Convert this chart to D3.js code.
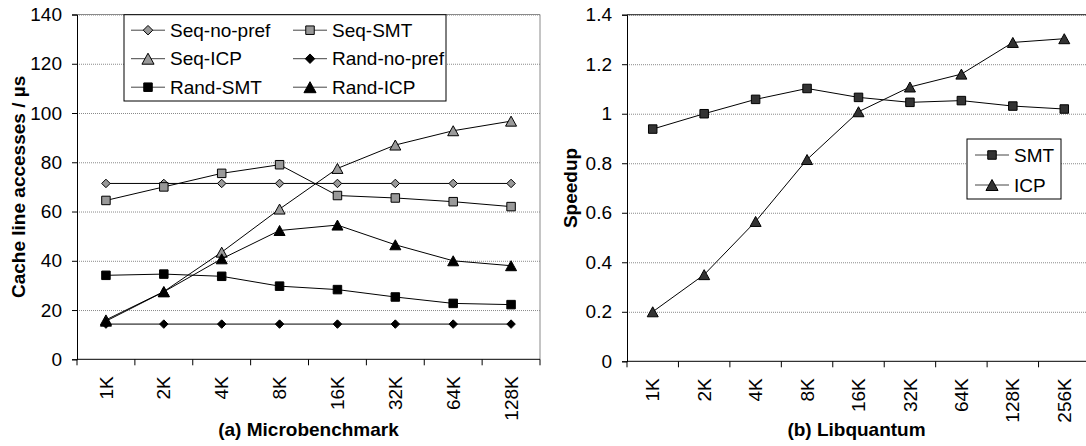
<!DOCTYPE html>
<html lang="en">
<head>
<meta charset="utf-8">
<title>Cache line accesses and speedup</title>
<script src="https://d3js.org/d3.v7.min.js"></script>
<style>
body { margin: 0; background: #fff; }
svg text { font-family: "Liberation Sans", Arial, sans-serif; fill: #000; }
.tick-label { font-size: 19px; }
.title { font-size: 19px; font-weight: bold; }
</style>
</head>
<body>
<div id="chart"></div>
<script>
// ---- data ----
var sizesA = ["1K", "2K", "4K", "8K", "16K", "32K", "64K", "128K"];
var seqNoPref  = [71.4, 71.4, 71.4, 71.4, 71.4, 71.4, 71.4, 71.4];
var seqSMT     = [64.5, 70, 75.5, 79, 66.5, 65.5, 64, 62];
var seqICP     = [16, 27.5, 43.5, 61, 77.5, 87, 92.8, 96.7];
var randNoPref = [14.3, 14.3, 14.3, 14.3, 14.3, 14.3, 14.3, 14.3];
var randSMT    = [34.1, 34.6, 33.7, 29.7, 28.3, 25.3, 22.7, 22.2];
var randICP    = [15.5, 27.4, 40.8, 52.3, 54.5, 46.5, 40, 38];
var ticksA = [0, 20, 40, 60, 80, 100, 120, 140];

var sizesB = ["1K", "2K", "4K", "8K", "16K", "32K", "64K", "128K", "256K"];
var smt = [0.938, 1.0, 1.058, 1.102, 1.066, 1.046, 1.053, 1.031, 1.019];
var icp = [0.2, 0.35, 0.565, 0.815, 1.008, 1.108, 1.16, 1.288, 1.303];
var ticksB = [0, 0.2, 0.4, 0.6, 0.8, 1, 1.2, 1.4];

var W = 1086, H = 446;
var svg = d3.select("#chart").append("svg")
  .attr("width", W).attr("height", H);
svg.append("rect").attr("width", W).attr("height", H).attr("fill", "#fff");

// marker shapes, centred on the point
function markerPath(shape, s) {
  var h = s / 2;
  if (shape == "diamond") return "M0," + (-h) + "L" + h + ",0L0," + h + "L" + (-h) + ",0Z";
  if (shape == "square") return "M" + (-h) + "," + (-h) + "h" + s + "v" + s + "h" + (-s) + "Z";
  // triangle
  return "M0," + (-h) + "L" + (h * 1.1) + "," + h + "L" + (-h * 1.1) + "," + h + "Z";
}
var markerSize = { diamond: 8.5, square: 8.5, triangle: 10 };
var legendSize = { diamond: 9.5, square: 8.5, triangle: 11 };

function drawPanel(opt) {
  var x = d3.scaleBand().domain(opt.cats).range(opt.xr).padding(0);
  var y = d3.scaleLinear().domain([0, opt.ymax]).range(opt.yr);
  var g = svg.append("g");
  var x0 = opt.xr[0], x1 = opt.xr[1];

  // grid lines
  g.append("g")
    .attr("transform", "translate(" + x0 + ",0)")
    .call(d3.axisLeft(y).tickValues(opt.ticks.slice(1)).tickSize(-(x1 - x0)).tickFormat(""))
    .call(function(a) {
      a.select(".domain").remove();
      a.selectAll("line").attr("stroke", "#8a8a8a").attr("stroke-dasharray", "1,1");
    });

  // plot area border (top/right)
  g.append("path")
    .attr("d", "M" + x0 + "," + opt.yr[1] + "H" + x1 + "V" + opt.yr[0])
    .attr("fill", "none").attr("stroke", opt.borderColor).attr("stroke-width", 1);

  // y axis
  var ya = g.append("g")
    .attr("transform", "translate(" + x0 + ",0)")
    .call(d3.axisLeft(y).tickValues(opt.ticks).tickSize(5).tickPadding(10)
      .tickFormat(function(d) { return d3.format("")(d); }));
  ya.select(".domain").attr("stroke", "#000");
  ya.selectAll("line").attr("stroke", "#000");
  ya.selectAll("text").attr("class", "tick-label").attr("font-size", null).attr("font-family", null);

  // x axis: line + ticks at category boundaries
  g.append("line")
    .attr("x1", x0).attr("x2", x1).attr("y1", opt.yr[0]).attr("y2", opt.yr[0])
    .attr("stroke", "#000");
  var bounds = opt.cats.map(function(c) { return x(c); }).concat([x1]);
  g.selectAll(".xt").data(bounds).enter().append("line")
    .attr("x1", function(d) { return d; }).attr("x2", function(d) { return d; })
    .attr("y1", opt.yr[0]).attr("y2", opt.yr[0] + 6)
    .attr("stroke", "#000");
  g.selectAll(".xl").data(opt.cats).enter().append("text")
    .attr("class", "tick-label")
    .attr("transform", function(d) {
      return "translate(" + (x(d) + x.bandwidth() / 2) + "," + (opt.yr[0] + 17) + ")rotate(-90)";
    })
    .attr("dy", "0.35em")
    .attr("text-anchor", "end")
    .text(function(d) { return d; });

  // series
  var line = d3.line()
    .x(function(d, i) { return x(opt.cats[i]) + x.bandwidth() / 2; })
    .y(function(d) { return y(d); });
  opt.series.forEach(function(s) {
    g.append("path").datum(s.values)
      .attr("d", line).attr("fill", "none").attr("stroke", "#000").attr("stroke-width", 1);
    g.selectAll(null).data(s.values).enter().append("path")
      .attr("transform", function(d, i) {
        return "translate(" + (x(opt.cats[i]) + x.bandwidth() / 2) + "," + y(d) + ")";
      })
      .attr("d", markerPath(s.shape, markerSize[s.shape]))
      .attr("fill", s.fill).attr("stroke", "#000").attr("stroke-width", 1);
  });

  // axis title and caption
  svg.append("text").attr("class", "title")
    .attr("transform", "translate(" + opt.ylabX + "," + ((opt.yr[0] + opt.yr[1]) / 2) + ")rotate(-90)")
    .attr("text-anchor", "middle")
    .text(opt.ylabel);
  svg.append("text").attr("class", "title")
    .attr("x", (x0 + Math.min(x1, W)) / 2 + opt.capShift).attr("y", 436)
    .attr("text-anchor", "middle")
    .text(opt.caption);

  // legend
  var L = opt.legend;
  g.append("rect")
    .attr("x", L.x).attr("y", L.y).attr("width", L.w).attr("height", L.h)
    .attr("fill", "#fff").attr("stroke", "#000");
  opt.series.forEach(function(s, i) {
    var col = i % L.cols, row = Math.floor(i / L.cols);
    var lx = L.x + L.colX[col], ly = L.y + L.rowY[row];
    g.append("line").attr("x1", lx).attr("x2", lx + 34).attr("y1", ly).attr("y2", ly)
      .attr("stroke", "#444");
    g.append("path")
      .attr("transform", "translate(" + (lx + 17) + "," + ly + ")")
      .attr("d", markerPath(s.shape, legendSize[s.shape]))
      .attr("fill", s.fill).attr("stroke", "#000");
    g.append("text").attr("class", "tick-label")
      .attr("x", lx + 39).attr("y", ly).attr("dy", "0.35em")
      .text(s.name);
  });
}

drawPanel({
  cats: sizesA, xr: [77, 540], yr: [359.3, 14.5], ymax: 140, ticks: ticksA,
  borderColor: "#8a8a8a",
  ylabel: "Cache line accesses / \u00b5s", ylabX: 25,
  caption: "(a) Microbenchmark", capShift: 0,
  series: [
    { name: "Seq-no-pref", values: seqNoPref, shape: "diamond", fill: "#999" },
    { name: "Seq-SMT", values: seqSMT, shape: "square", fill: "#999" },
    { name: "Seq-ICP", values: seqICP, shape: "triangle", fill: "#999" },
    { name: "Rand-no-pref", values: randNoPref, shape: "diamond", fill: "#000" },
    { name: "Rand-SMT", values: randSMT, shape: "square", fill: "#000" },
    { name: "Rand-ICP", values: randICP, shape: "triangle", fill: "#000" }
  ],
  legend: { x: 124, y: 14.7, w: 322, h: 86.3, cols: 2, colX: [7, 169], rowY: [15.5, 44, 72.5] }
});

drawPanel({
  cats: sizesB, xr: [627, 1090], yr: [361.3, 14.7], ymax: 1.4, ticks: ticksB,
  borderColor: "#222",
  ylabel: "Speedup", ylabX: 577,
  caption: "(b) Libquantum", capShift: 0,
  series: [
    { name: "SMT", values: smt, shape: "square", fill: "#333" },
    { name: "ICP", values: icp, shape: "triangle", fill: "#333" }
  ],
  legend: { x: 967, y: 139, w: 94, h: 60, cols: 1, colX: [8], rowY: [16, 46] }
});
</script>
</body>
</html>
